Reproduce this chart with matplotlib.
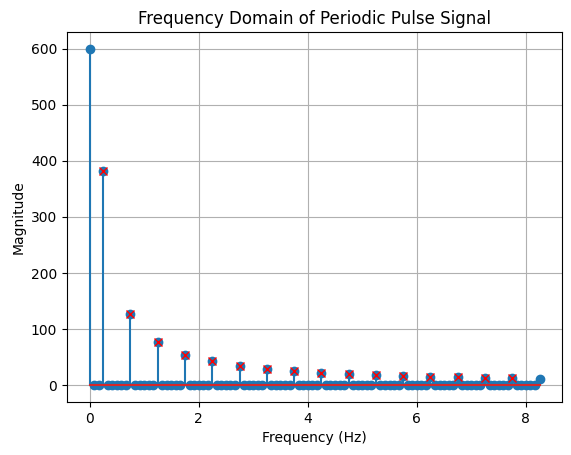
import numpy as np
import matplotlib
matplotlib.use("Agg")
import matplotlib.pyplot as plt

# Frequency bin spacing (Hz) and number of bins shown
bin_step = 1.0 / 12.0
n_bins = 100

# Nonzero spectrum lines: bin index -> magnitude
peak_bins = [0, 3, 9, 15, 21, 27, 33, 39, 45, 51, 57, 63, 69, 75, 81, 87, 93, 99]
peak_mags = [600, 382, 127.3, 76.4, 54.6, 42.5, 34.8, 29.4, 25.5, 22.5,
             20.1, 18.2, 16.6, 15.3, 14.2, 13.2, 12.4, 11.6]

# Peaks flagged with red crosses (interior peaks only)
marked_bins = [3, 9, 15, 21, 27, 33, 39, 45, 51, 57, 63, 69, 75, 81, 87, 93]

freqs = np.arange(n_bins) * bin_step
mags = np.zeros(n_bins)
mags[peak_bins] = peak_mags

fig = plt.figure(figsize=(5.71, 4.55), dpi=100)
ax = fig.add_axes([67 / 571, 1 - 402 / 455, 495 / 571, 370 / 455])

ax.stem(freqs, mags)
ax.plot(freqs[marked_bins], mags[marked_bins], 'rx')
ax.set_title("Frequency Domain of Periodic Pulse Signal")
ax.set_xlabel("Frequency (Hz)")
ax.set_ylabel("Magnitude")
ax.grid(True)

fig.savefig("out.png", dpi=100)
